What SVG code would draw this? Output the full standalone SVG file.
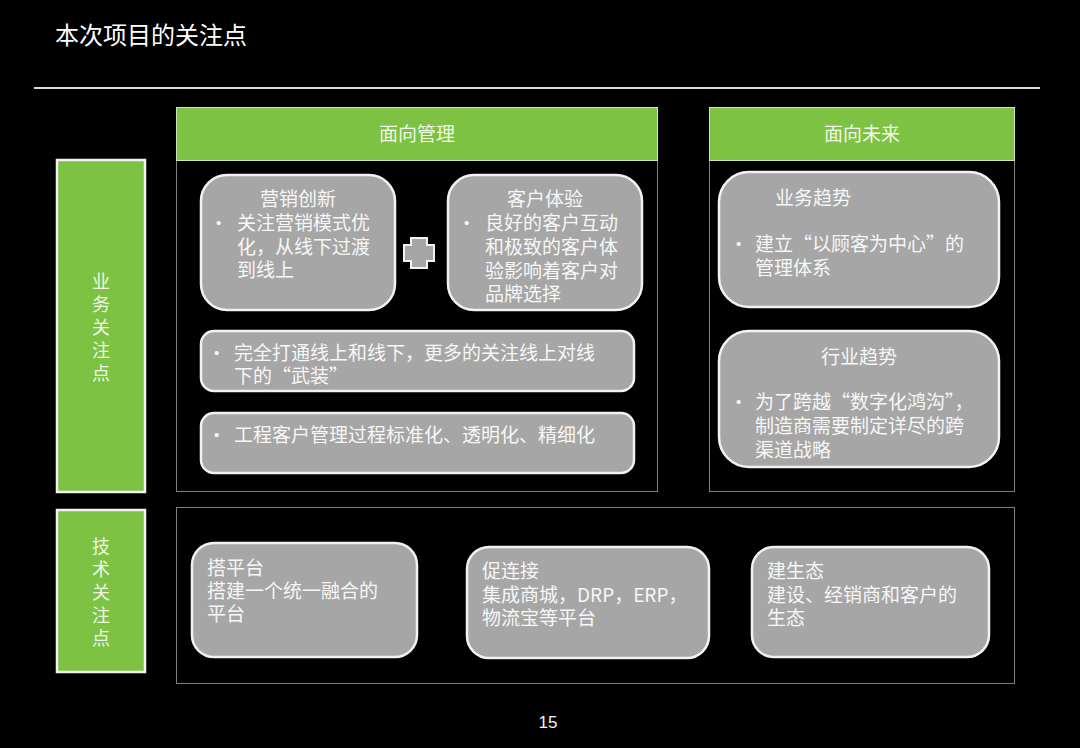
<svg xmlns="http://www.w3.org/2000/svg" width="1080" height="748" viewBox="0 0 1080 748">
<defs>
<style>
text{font-family:"Noto Sans CJK SC","Liberation Sans",sans-serif;}
.bg{fill:#000000;}
.title{fill:#ffffff;font-size:24px;}
.panel{fill:#000000;stroke:#7f7f7f;stroke-width:1;}
.hdr{fill:#7dc243;stroke:#cfe4b8;stroke-width:1;}
.hdrtxt{fill:#f2f9ea;font-size:19px;text-anchor:middle;}
.side{fill:#7dc243;stroke:#f2f2f2;stroke-width:2.5;}
.sidetxt{fill:#eef7e4;font-size:18px;text-anchor:middle;}
.card{fill:#a6a6a6;stroke:#f2f2f2;stroke-width:2.5;}
.t{fill:#f7f7f7;font-size:19px;}
.tc{fill:#f7f7f7;font-size:19px;text-anchor:middle;}
.bul{fill:#f7f7f7;font-size:15px;font-family:"Liberation Sans",sans-serif;}
.rule{stroke:#d9d9d9;stroke-width:2;}
.pg{fill:#f2f2f2;font-size:17px;font-family:"Liberation Sans",sans-serif;text-anchor:middle;}
</style>
</defs>
<rect class="bg" x="0" y="0" width="1080" height="748"/>
<text class="title" x="55" y="44">本次项目的关注点</text>
<line class="rule" x1="34" y1="88" x2="1040" y2="88"/>

<g id="side-business">
<rect class="side" x="57" y="160" width="88" height="332"/>
<text class="sidetxt" x="101"><tspan x="101" y="288">业</tspan><tspan x="101" y="311">务</tspan><tspan x="101" y="334">关</tspan><tspan x="101" y="357">注</tspan><tspan x="101" y="380">点</tspan></text>
</g>
<g id="side-tech">
<rect class="side" x="57" y="510" width="88" height="162"/>
<text class="sidetxt" x="101"><tspan x="101" y="553">技</tspan><tspan x="101" y="576">术</tspan><tspan x="101" y="599">关</tspan><tspan x="101" y="622">注</tspan><tspan x="101" y="645">点</tspan></text>
</g>

<g id="panel-management">
<rect class="panel" x="176.5" y="160.5" width="481" height="331"/>
<rect class="hdr" x="176.5" y="107.5" width="481" height="53"/>
<text class="hdrtxt" x="417" y="141">面向管理</text>
</g>
<g id="panel-future">
<rect class="panel" x="709.5" y="160.5" width="305" height="331"/>
<rect class="hdr" x="709.5" y="107.5" width="305" height="53"/>
<text class="hdrtxt" x="862" y="141">面向未来</text>
</g>
<g id="panel-tech">
<rect class="panel" x="176.5" y="507.5" width="838" height="176"/>
</g>

<g id="node-marketing">
<rect class="card" x="201" y="175" width="194" height="135" rx="26"/>
<text class="tc" x="298" y="206">营销创新</text>
<text class="bul" x="216" y="228">•</text>
<text class="t"><tspan x="237" y="230">关注营销模式优</tspan><tspan x="237" y="254">化，从线下过渡</tspan><tspan x="237" y="277">到线上</tspan></text>
</g>

<g id="plus">
<polygon points="411,238 427,238 427,245 434,245 434,261 427,261 427,268 411,268 411,261 404,261 404,245 411,245" fill="#a6a6a6" stroke="#f2f2f2" stroke-width="2"/>
</g>

<g id="node-experience">
<rect class="card" x="448" y="175" width="194" height="135" rx="26"/>
<text class="tc" x="545" y="206">客户体验</text>
<text class="bul" x="464" y="228">•</text>
<text class="t"><tspan x="485" y="230">良好的客户互动</tspan><tspan x="485" y="254">和极致的客户体</tspan><tspan x="485" y="278">验影响着客户对</tspan><tspan x="485" y="301">品牌选择</tspan></text>
</g>

<g id="node-online">
<rect class="card" x="201" y="331" width="433" height="60" rx="13"/>
<text class="bul" x="214" y="358">•</text>
<text class="t"><tspan x="234" y="360">完全打通线上和线下，更多的关注线上对线</tspan><tspan x="234" y="383">下的“武装”</tspan></text>
</g>

<g id="node-engineering">
<rect class="card" x="201" y="413" width="433" height="60" rx="13"/>
<text class="bul" x="214" y="440">•</text>
<text class="t" x="234" y="442">工程客户管理过程标准化、透明化、精细化</text>
</g>

<g id="node-business-trend">
<rect class="card" x="719" y="172" width="280" height="135" rx="30"/>
<text class="t" x="775" y="205">业务趋势</text>
<text class="bul" x="736" y="249">•</text>
<text class="t"><tspan x="755" y="251">建立“以顾客为中心”的</tspan><tspan x="755" y="275">管理体系</tspan></text>
</g>

<g id="node-industry-trend">
<rect class="card" x="719" y="331" width="280" height="136" rx="30"/>
<text class="tc" x="859" y="364">行业趋势</text>
<text class="bul" x="736" y="407">•</text>
<text class="t"><tspan x="755" y="409">为了跨越“数字化鸿沟”，</tspan><tspan x="755" y="433">制造商需要制定详尽的跨</tspan><tspan x="755" y="457">渠道战略</tspan></text>
</g>

<g id="node-platform">
<rect class="card" x="192" y="543" width="225" height="114" rx="22"/>
<text class="t"><tspan x="207" y="575">搭平台</tspan><tspan x="207" y="598">搭建一个统一融合的</tspan><tspan x="207" y="621">平台</tspan></text>
</g>

<g id="node-connect">
<rect class="card" x="467" y="547" width="242" height="111" rx="22"/>
<text class="t"><tspan x="482" y="578">促连接</tspan><tspan x="482" y="602">集成商城，DRP，ERP，</tspan><tspan x="482" y="625">物流宝等平台</tspan></text>
</g>

<g id="node-ecology">
<rect class="card" x="752" y="547" width="237" height="110" rx="22"/>
<text class="t"><tspan x="767" y="578">建生态</tspan><tspan x="767" y="602">建设、经销商和客户的</tspan><tspan x="767" y="625">生态</tspan></text>
</g>

<g id="connectors"></g>

<text class="pg" x="548" y="728">15</text>
</svg>
